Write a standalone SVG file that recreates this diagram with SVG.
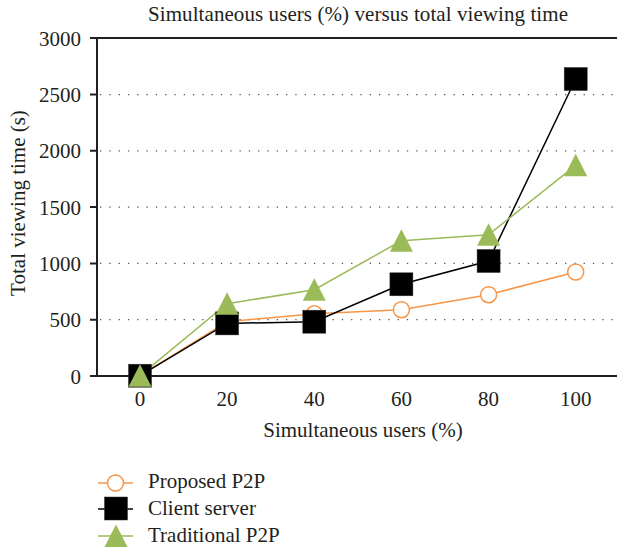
<svg xmlns="http://www.w3.org/2000/svg" xmlns:xlink="http://www.w3.org/1999/xlink" width="617" height="550" viewBox="0 0 617 550">
<style>
text{font-family:"Liberation Serif","Times New Roman",serif;font-size:21px;fill:#231f20}
.yl{text-anchor:end}
.xl{text-anchor:middle}
.axis{stroke:#231f20;stroke-width:2;fill:none}
.grid{stroke:#555;stroke-width:1.3;stroke-dasharray:1.3 8;fill:none}
.lp{stroke:#F79646;stroke-width:1.5;fill:none}
.lc{stroke:#000;stroke-width:1.5;fill:none}
.lt{stroke:#9BBB59;stroke-width:1.5;fill:none}
</style>
<defs>
<circle id="mcirc" r="8" fill="#fff" stroke="#F79646" stroke-width="1.5"/>
<rect id="msq" x="-11.5" y="-11.5" width="23" height="23" fill="#000" stroke="#333" stroke-width="0.5"/>
<polygon id="mtri" points="0,-11.5 11.5,11 -11.5,11" fill="#9BBB59"/>
</defs>
<text x="358" y="21" class="xl" textLength="420" lengthAdjust="spacing">Simultaneous users (%) versus total viewing time</text>
<g id="grid">
<line class="grid" x1="100" y1="94.6" x2="617" y2="94.6"/>
<line class="grid" x1="100" y1="150.8" x2="617" y2="150.8"/>
<line class="grid" x1="100" y1="207.1" x2="617" y2="207.1"/>
<line class="grid" x1="100" y1="263.4" x2="617" y2="263.4"/>
<line class="grid" x1="100" y1="319.7" x2="617" y2="319.7"/>
</g>
<g id="axes">
<path class="axis" d="M97,37.5V376.5M90,38H617M90,376H617M90,94.6H97M90,150.8H97M90,207.1H97M90,263.4H97M90,319.7H97"/>
<text class="yl" x="81" y="45.5">3000</text>
<text class="yl" x="81" y="102">2500</text>
<text class="yl" x="81" y="158.3">2000</text>
<text class="yl" x="81" y="214.6">1500</text>
<text class="yl" x="81" y="270.9">1000</text>
<text class="yl" x="81" y="327.2">500</text>
<text class="yl" x="81" y="383.5">0</text>
<text class="xl" x="140" y="405.5">0</text>
<text class="xl" x="227.1" y="405.5">20</text>
<text class="xl" x="314.3" y="405.5">40</text>
<text class="xl" x="401.4" y="405.5">60</text>
<text class="xl" x="488.6" y="405.5">80</text>
<text class="xl" x="575.7" y="405.5">100</text>
<text class="xl" x="363" y="437">Simultaneous users (%)</text>
<text class="xl" transform="translate(25,203) rotate(-90)">Total viewing time (s)</text>
</g>
<g id="connectors">
<polyline class="lp" points="140,375.7 227.1,321.7 314.3,313.8 401.4,309.7 488.6,294.7 575.7,272"/>
<polyline class="lc" points="140,375.7 227.1,323.4 314.3,321.7 401.4,284.3 488.6,261 575.7,79"/>
<polyline class="lt" points="140,375.7 227.1,303.7 314.3,289.7 401.4,240.8 488.6,234.7 575.7,165.3"/>
</g>
<g id="series-proposed">
<use xlink:href="#mcirc" x="140" y="375.7"/>
<use xlink:href="#mcirc" x="227.1" y="321.7"/>
<use xlink:href="#mcirc" x="314.3" y="313.8"/>
<use xlink:href="#mcirc" x="401.4" y="309.7"/>
<use xlink:href="#mcirc" x="488.6" y="294.7"/>
<use xlink:href="#mcirc" x="575.7" y="272"/>
</g>
<g id="series-client">
<use xlink:href="#msq" x="140" y="375.7"/>
<use xlink:href="#msq" x="227.1" y="323.4"/>
<use xlink:href="#msq" x="314.3" y="321.7"/>
<use xlink:href="#msq" x="401.4" y="284.3"/>
<use xlink:href="#msq" x="488.6" y="261"/>
<use xlink:href="#msq" x="575.7" y="79"/>
</g>
<g id="series-traditional">
<use xlink:href="#mtri" x="140" y="375.7"/>
<use xlink:href="#mtri" x="227.1" y="303.7"/>
<use xlink:href="#mtri" x="314.3" y="289.7"/>
<use xlink:href="#mtri" x="401.4" y="240.8"/>
<use xlink:href="#mtri" x="488.6" y="234.7"/>
<use xlink:href="#mtri" x="575.7" y="165.3"/>
</g>
<g id="legend">
<line class="lp" x1="98" y1="483" x2="133" y2="483"/>
<use xlink:href="#mcirc" x="115.5" y="483"/>
<text x="148" y="488">Proposed P2P</text>
<line class="lc" x1="98" y1="509" x2="133" y2="509"/>
<use xlink:href="#msq" x="116" y="508.5"/>
<text x="148" y="515">Client server</text>
<line class="lt" x1="98" y1="536" x2="133" y2="536"/>
<use xlink:href="#mtri" x="116" y="536"/>
<text x="148" y="542">Traditional P2P</text>
</g>
</svg>
